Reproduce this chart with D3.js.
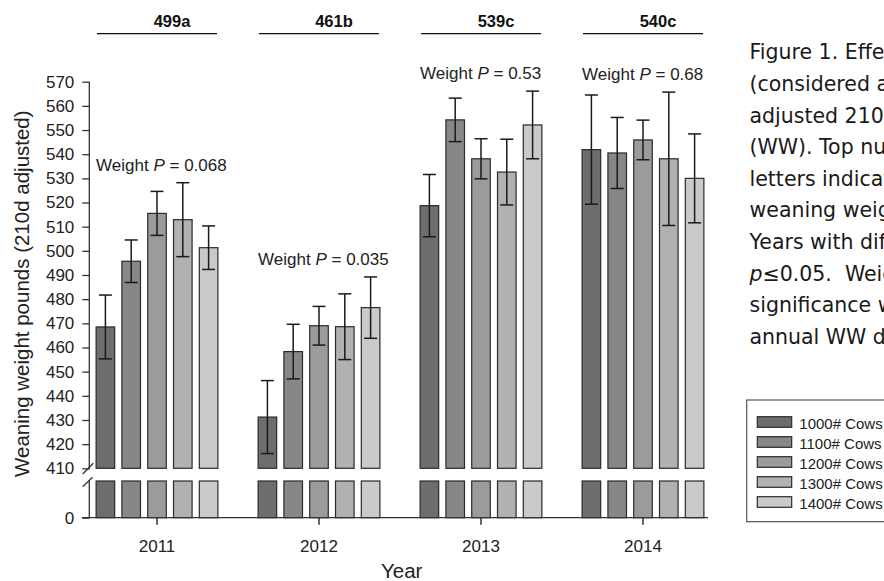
<!DOCTYPE html>
<html>
<head>
<meta charset="utf-8">
<script src="https://cdn.jsdelivr.net/npm/d3@7/dist/d3.min.js"></script>
<style>
  html, body { margin: 0; padding: 0; background: #fff; }
  svg { display: block; }
</style>
</head>
<body>
<svg id="chart" width="884" height="581"></svg>
<script>
// ---------- data ----------
const years = ["2011", "2012", "2013", "2014"];
const seriesNames = ["1000# Cows", "1100# Cows", "1200# Cows", "1300# Cows", "1400# Cows"];
const w1000 = [468.5, 431.2, 518.7, 541.9];
const w1100 = [495.7, 458.3, 554.2, 540.5];
const w1200 = [515.5, 469.0, 538.1, 545.9];
const w1300 = [512.9, 468.6, 532.6, 538.1];
const w1400 = [501.3, 476.5, 552.1, 530.0];
const se1000 = [13.2, 15.1, 12.9, 22.6];
const se1100 = [8.8, 11.3, 9.0, 14.7];
const se1200 = [9.1, 8.0, 8.3, 8.2];
const se1300 = [15.3, 13.6, 13.6, 27.6];
const se1400 = [9.0, 12.7, 14.0, 18.4];
const yearMeans = ["499a", "461b", "539c", "540c"];
const pValues = ["0.068", "0.035", "0.53", "0.68"];
const yTicksUpper = [410, 420, 430, 440, 450, 460, 470, 480, 490, 500, 510, 520, 530, 540, 550, 560, 570];
const yTicksLower = [0];
const captionLines = [
  "Figure 1. Effect of cow size",
  "(considered as mature",
  "adjusted 210d weaning",
  "(WW). Top numbers and",
  "letters indicate mean",
  "weaning weight for",
  "Years with different",
  "p\u22640.05.  Weight P",
  "significance within",
  "annual WW data."
];

const values = [w1000, w1100, w1200, w1300, w1400];
const errors = [se1000, se1100, se1200, se1300, se1400];
const colors = ["#6d6d6d", "#878787", "#9b9b9b", "#b1b1b1", "#cacaca"];

// ---------- layout ----------
const svg = d3.select("#chart");
const FONT = "Arial, 'Liberation Sans', sans-serif";

const x = d3.scaleBand().domain(years).range([76, 724]);
const xi = d3.scaleBand().domain(seriesNames).range([-64.5, 64.5]).paddingInner(0.28).paddingOuter(0.14);
const yUp = d3.scaleLinear().domain([410, 570]).range([468.3, 81.7]);
const yLow = d3.scaleLinear().domain([0, 410]).range([517.7, 481]);
const cx = yr => x(yr) + x.bandwidth() / 2;

const rows = [];
years.forEach((yr, i) => {
  seriesNames.forEach((s, j) => {
    rows.push({ year: yr, s, j, v: values[j][i], e: errors[j][i] });
  });
});

// bars upper part
const g = svg.append("g");
g.selectAll("rect.up").data(rows).join("rect")
  .attr("class", "up")
  .attr("x", d => cx(d.year) + xi(d.s))
  .attr("width", xi.bandwidth())
  .attr("y", d => yUp(d.v))
  .attr("height", d => yUp(410) - yUp(d.v))
  .attr("fill", d => colors[d.j])
  .attr("stroke", "#2a2a2a").attr("stroke-width", 1.2);

// bars lower part
g.selectAll("rect.low").data(rows).join("rect")
  .attr("class", "low")
  .attr("x", d => cx(d.year) + xi(d.s))
  .attr("width", xi.bandwidth())
  .attr("y", yLow(410))
  .attr("height", yLow(0) - yLow(410))
  .attr("fill", d => colors[d.j])
  .attr("stroke", "#2a2a2a").attr("stroke-width", 1.2);

// error bars
const eg = svg.append("g").attr("stroke", "#1a1a1a").attr("stroke-width", 1.5);
rows.forEach(d => {
  const mx = cx(d.year) + xi(d.s) + xi.bandwidth() / 2;
  eg.append("line").attr("x1", mx).attr("x2", mx).attr("y1", yUp(d.v + d.e)).attr("y2", yUp(d.v - d.e));
  eg.append("line").attr("x1", mx - 6.5).attr("x2", mx + 6.5).attr("y1", yUp(d.v + d.e)).attr("y2", yUp(d.v + d.e));
  eg.append("line").attr("x1", mx - 6.5).attr("x2", mx + 6.5).attr("y1", yUp(d.v - d.e)).attr("y2", yUp(d.v - d.e));
});

// y axis upper
const axUp = svg.append("g").attr("transform", "translate(89.3,0)")
  .call(d3.axisLeft(yUp).tickValues(yTicksUpper).tickSize(7).tickPadding(8).tickFormat(d3.format("d")));
// y axis lower
const axLow = svg.append("g").attr("transform", "translate(89.3,0)")
  .call(d3.axisLeft(yLow).tickValues(yTicksLower).tickSize(7).tickPadding(8).tickFormat(d3.format("d")));
[axUp, axLow].forEach(a => {
  a.select(".domain").remove();
  a.selectAll(".tick line").attr("stroke", "#333").attr("stroke-width", 1.3);
  a.selectAll(".tick text").attr("font-family", FONT).attr("font-size", 17).attr("fill", "#222");
});
svg.append("line").attr("x1", 89.3).attr("x2", 89.3).attr("y1", yUp(570)).attr("y2", yUp(410) + 1)
  .attr("stroke", "#333").attr("stroke-width", 1.3);
svg.append("line").attr("x1", 89.3).attr("x2", 89.3).attr("y1", yLow(410) - 0.5).attr("y2", yLow(0))
  .attr("stroke", "#333").attr("stroke-width", 1.3);
// break marks
svg.append("line").attr("x1", 82.7).attr("y1", 474).attr("x2", 93.3).attr("y2", 463.3).attr("stroke", "#333").attr("stroke-width", 1.3);
svg.append("line").attr("x1", 82.7).attr("y1", 486.7).attr("x2", 92.5).attr("y2", 477.3).attr("stroke", "#333").attr("stroke-width", 1.3);

// x axis
const axX = svg.append("g").attr("transform", `translate(0,${yLow(0)})`)
  .call(d3.axisBottom(x).tickSize(7).tickPadding(15));
axX.select(".domain").remove();
axX.selectAll(".tick line").attr("stroke", "#333").attr("stroke-width", 1.5);
axX.selectAll(".tick text").attr("font-family", FONT).attr("font-size", 17).attr("fill", "#222");
svg.append("line").attr("x1", 82).attr("x2", 708).attr("y1", yLow(0)).attr("y2", yLow(0))
  .attr("stroke", "#333").attr("stroke-width", 1.3);

// axis titles
svg.append("text").attr("transform", `translate(29,${(yUp(570) + yLow(0)) / 2 - 6}) rotate(-90)`)
  .attr("text-anchor", "middle").attr("font-family", FONT).attr("font-size", 20.5).attr("fill", "#222")
  .text("Weaning weight pounds (210d adjusted)");
svg.append("text").attr("x", 401.7).attr("y", 577.5)
  .attr("text-anchor", "middle").attr("font-family", FONT).attr("font-size", 20.5).attr("fill", "#222")
  .text("Year");

// top year mean labels and lines
years.forEach((yr, i) => {
  svg.append("text").attr("x", cx(yr) + 15).attr("y", 26.5)
    .attr("text-anchor", "middle").attr("font-family", FONT).attr("font-weight", "bold")
    .attr("font-size", 16.5).attr("fill", "#111").text(yearMeans[i]);
  svg.append("line").attr("x1", cx(yr) - 60).attr("x2", cx(yr) + 60).attr("y1", 33.7).attr("y2", 33.7)
    .attr("stroke", "#111").attr("stroke-width", 1.3);
});

// weight P annotations
years.forEach((yr, i) => {
  const maxTop = d3.max(seriesNames.map((s, j) => values[j][i] + errors[j][i]));
  const t = svg.append("text").attr("x", cx(yr) + xi(seriesNames[0])).attr("y", yUp(maxTop) - 12)
    .attr("font-family", FONT).attr("font-size", 17).attr("fill", "#222");
  t.append("tspan").text("Weight ");
  t.append("tspan").attr("font-style", "italic").text("P");
  t.append("tspan").text(" = " + pValues[i]);
});

// caption
const cap = svg.append("g");
captionLines.forEach((line, i) => {
  const t = cap.append("text").attr("x", 749.5).attr("y", 59.3 + i * 31.62)
    .attr("font-family", "'DejaVu Sans', sans-serif").attr("font-size", 20.5).attr("fill", "#1a1a1a")
    .style("white-space", "pre");
  if (line.startsWith("p\u2264")) {
    t.append("tspan").attr("font-style", "italic").text("p");
    t.append("tspan").text(line.slice(1));
  } else {
    t.text(line);
  }
});

// legend
const lg = svg.append("g");
lg.append("rect").attr("x", 746.7).attr("y", 400).attr("width", 200).attr("height", 121.7)
  .attr("fill", "#fff").attr("stroke", "#555").attr("stroke-width", 1.2);
seriesNames.forEach((s, j) => {
  lg.append("rect").attr("x", 757.3).attr("y", 416.7 + j * 20).attr("width", 34.4).attr("height", 10.6)
    .attr("fill", colors[j]).attr("stroke", "#2a2a2a").attr("stroke-width", 1.2);
  lg.append("text").attr("x", 799.3).attr("y", 428.5 + j * 20)
    .attr("font-family", FONT).attr("font-size", 15).attr("fill", "#222").text(s);
});
</script>
</body>
</html>
